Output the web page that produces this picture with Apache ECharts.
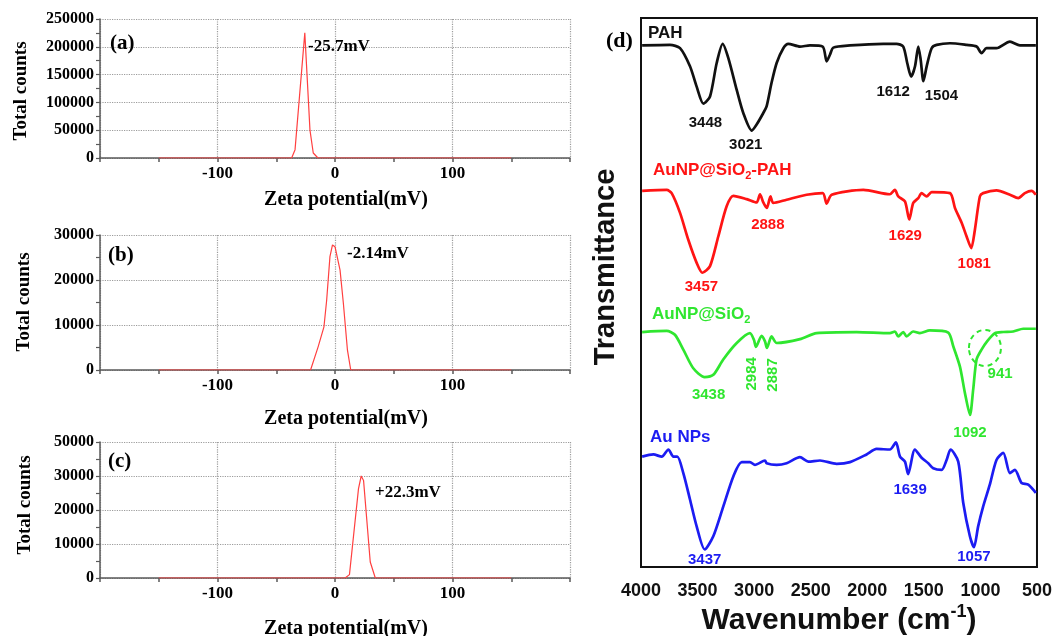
<!DOCTYPE html>
<html>
<head>
<meta charset="utf-8">
<script src="https://cdn.jsdelivr.net/npm/echarts@6/dist/echarts.min.js"></script>
<style>
html, body { margin: 0; padding: 0; background: #fff; }
#chart { width: 1055px; height: 636px; }
</style>
</head>
<body>
<div id="chart"></div>
<script>
// ---- Zeta potential distributions: [zeta potential (mV), total counts] ----
const zetaA = [[-150, 0], [-36.9, 0], [-34, 15000], [-25.7, 225000], [-21.3, 50000], [-18.5, 9000], [-14.5, 0], [150, 0]];
const zetaB = [[-150, 0], [-20.8, 0], [-14.3, 5200], [-9.4, 9600], [-7.1, 15500], [-4.3, 25200], [-2.14, 27800], [0, 27400], [4.3, 22200], [7.1, 14900], [10.6, 4400], [13.4, 0], [150, 0]];
const zetaC = [[-150, 0], [8.6, 0], [12.3, 1000], [20, 26300], [22.3, 30000], [24.3, 28700], [30, 4700], [34.3, 0], [150, 0]];
const zetaPeakLabels = ['-25.7mV', '-2.14mV', '+22.3mV'];
const zetaXTicks = [-100, 0, 100];
const countTicksA = ['0', '50000', '100000', '150000', '200000', '250000'];
const countTicksB = ['0', '10000', '20000', '30000'];
const countTicksC = ['0', '10000', '20000', '30000', '50000'];
const panelLetters = ['(a)', '(b)', '(c)', '(d)'];

// ---- FTIR spectra: [wavenumber (cm-1), transmittance (a.u., stacked)] ----
const pahSpec = [[3990, 95.0], [3744, 95.1], [3655, 94.5], [3567, 91.2], [3508, 87.5], [3448, 84.4], [3390, 85.7], [3331, 91.8], [3278, 95.3], [3228, 92.7], [3154, 86.9], [3096, 82.7], [3021, 79.5], [2978, 80.6], [2919, 82.7], [2890, 83.9], [2846, 88.2], [2801, 91.8], [2742, 94.5], [2698, 95.3], [2595, 94.8], [2507, 95.0], [2394, 94.8], [2359, 92.1], [2330, 93.3], [2300, 94.6], [2153, 95.0], [1859, 95.3], [1741, 95.3], [1682, 94.8], [1647, 91.8], [1612, 89.3], [1578, 91.2], [1549, 94.8], [1528, 92.4], [1504, 88.5], [1475, 91.2], [1431, 94.5], [1387, 95.1], [1269, 95.4], [1122, 95.1], [1034, 94.8], [990, 93.6], [946, 94.5], [858, 94.5], [739, 95.7], [651, 95.0], [510, 95.0]];
const silicaPahSpec = [[3990, 68.5], [3773, 68.7], [3729, 68.1], [3655, 64.5], [3582, 59.6], [3508, 55.4], [3457, 53.6], [3390, 54.8], [3317, 60.2], [3243, 65.7], [3184, 67.6], [3066, 67.0], [2978, 66.4], [2948, 67.9], [2919, 66.4], [2888, 65.4], [2855, 67.5], [2831, 66.3], [2713, 66.9], [2536, 67.8], [2394, 68.1], [2359, 66.2], [2315, 67.8], [2035, 68.7], [1800, 67.9], [1756, 68.7], [1726, 67.5], [1667, 66.6], [1629, 63.3], [1594, 66.3], [1549, 67.2], [1520, 68.1], [1475, 67.5], [1431, 68.3], [1269, 68.1], [1225, 65.4], [1166, 62.7], [1122, 60.2], [1081, 58.1], [1049, 61.4], [1005, 67.5], [976, 68.1], [858, 68.6], [739, 67.8], [666, 67.2], [607, 68.1], [548, 68.5], [510, 67.8]];
const silicaSpec = [[3990, 42.8], [3773, 43.0], [3700, 42.3], [3626, 39.6], [3538, 36.2], [3438, 34.6], [3361, 35.0], [3273, 37.8], [3154, 40.8], [3037, 42.6], [3002, 41.4], [2984, 40.1], [2934, 42.1], [2904, 41.1], [2887, 39.9], [2846, 42.0], [2801, 40.8], [2595, 41.5], [2448, 42.6], [2094, 42.8], [1800, 42.6], [1756, 42.9], [1726, 42.0], [1682, 42.8], [1653, 42.0], [1594, 42.9], [1535, 42.6], [1447, 43.1], [1284, 42.7], [1240, 40.2], [1181, 36.5], [1137, 31.7], [1092, 27.7], [1064, 32.3], [1034, 37.8], [990, 39.6], [941, 41.1], [872, 42.6], [798, 42.8], [710, 42.9], [622, 43.4], [510, 43.4]];
const goldSpec = [[3990, 20.1], [3891, 20.5], [3817, 20.1], [3758, 21.4], [3714, 20.1], [3679, 20.1], [3626, 17.1], [3567, 12.3], [3508, 7.4], [3437, 3.2], [3361, 5.6], [3273, 11.0], [3184, 16.5], [3110, 19.1], [3037, 19.1], [2993, 18.6], [2904, 19.4], [2890, 18.9], [2801, 18.6], [2713, 18.9], [2595, 20.0], [2521, 19.2], [2418, 19.4], [2271, 18.8], [2153, 19.1], [2006, 20.5], [1918, 21.5], [1800, 21.4], [1747, 22.7], [1711, 20.1], [1667, 19.2], [1639, 16.9], [1579, 21.4], [1520, 19.9], [1461, 18.9], [1417, 18.0], [1343, 17.7], [1299, 19.5], [1264, 21.4], [1196, 19.2], [1152, 11.7], [1093, 5.6], [1057, 3.6], [1020, 7.4], [976, 11.0], [917, 15.0], [858, 19.5], [798, 20.8], [739, 17.1], [695, 17.7], [636, 15.3], [577, 15.0], [510, 13.5]];
const pahPeaks = [3448, 3021, 1612, 1504];
const silicaPahPeaks = [1081, 1629, 2888, 3457];
const silicaPeaks = [3438, 2984, 2887, 1092, 941];
const goldPeaks = [3437, 1639, 1057];
const wnTicks = [4000, 3500, 3000, 2500, 2000, 1500, 1000, 500];

// ---- styling ----
const SERIF = '"Liberation Serif", "Times New Roman", serif';
const SANS = '"Liberation Sans", Arial, sans-serif';
const AXIS_GRAY = '#5a5a5a';
const DOT_GRAY = '#9c9c9c';
const ZETA_RED = '#ff4040';
const C_BLACK = '#111111', C_RED = '#ff1414', C_GREEN = '#2fe62f', C_BLUE = '#1c1cf2';

const chart = echarts.init(document.getElementById('chart'));

const zetaGrids = [
  { left: 100, top: 19, width: 470, height: 139 },
  { left: 100, top: 235, width: 470, height: 135 },
  { left: 100, top: 442, width: 470, height: 136 }
];
const zetaY = [
  { max: 250000, interval: 50000, labels: countTicksA },
  { max: 30000, interval: 10000, labels: countTicksB },
  { max: 40000, interval: 10000, labels: countTicksC }
];
const zetaData = [zetaA, zetaB, zetaC];

const grids = zetaGrids.concat([{ left: 641, top: 18, width: 396, height: 549, show: true, borderColor: '#111', borderWidth: 2, backgroundColor: 'transparent' }]);

const xAxes = zetaGrids.map((g, i) => ({
  gridIndex: i, type: 'value', min: -200, max: 200, interval: 100,
  axisLine: { show: true, onZero: false, lineStyle: { color: AXIS_GRAY, width: 1.5 } },
  axisTick: { show: true, length: 4, lineStyle: { color: AXIS_GRAY, width: 1.5 } },
  minorTick: { show: true, splitNumber: 2, length: 4, lineStyle: { color: AXIS_GRAY, width: 1.5 } },
  splitLine: { show: true, lineStyle: { color: DOT_GRAY, type: 'dotted', width: 1.2 } },
  axisLabel: {
    margin: 7, fontFamily: SERIF, fontWeight: 'bold', fontSize: 17, color: '#000',
    formatter: v => zetaXTicks.includes(v) ? String(v) : ''
  }
}));
xAxes.push({
  gridIndex: 3, type: 'value', min: 500, max: 4000, interval: 500, inverse: true,
  axisLine: { show: false }, axisTick: { show: false }, splitLine: { show: false },
  axisLabel: {
    margin: 15, fontFamily: SANS, fontWeight: 'bold', fontSize: 18, color: '#111',
    showMinLabel: true, showMaxLabel: true,
    formatter: v => wnTicks.includes(v) ? String(v) : ''
  }
});

const yAxes = zetaY.map((zy, i) => ({
  gridIndex: i, type: 'value', min: 0, max: zy.max, interval: zy.interval,
  axisLine: { show: true, onZero: false, lineStyle: { color: AXIS_GRAY, width: 1.5 } },
  axisTick: { show: true, length: 4, lineStyle: { color: AXIS_GRAY, width: 1.2 } },
  minorTick: { show: true, splitNumber: 2, length: 4, lineStyle: { color: AXIS_GRAY, width: 1.2 } },
  splitLine: { show: true, lineStyle: { color: DOT_GRAY, type: 'dotted', width: 1.2 } },
  axisLabel: {
    margin: 6, fontFamily: SERIF, fontWeight: 'bold', fontSize: 16, color: '#000',
    formatter: v => zy.labels[Math.round(v / zy.interval)]
  }
}));
yAxes.push({ gridIndex: 3, type: 'value', min: 0, max: 100, show: false });

// label placement (pixel offsets from each absorption minimum)
function peakMarks(spec, peaks, offsets, color, rotations) {
  return {
    symbol: 'circle', symbolSize: 1,
    itemStyle: { color: 'rgba(0,0,0,0)' },
    label: {
      show: true, position: 'inside', color: color,
      fontFamily: SANS, fontWeight: 'bold', fontSize: 15,
      formatter: p => p.value
    },
    data: peaks.map((wn, i) => ({
      coord: spec.find(p => p[0] === wn),
      value: String(wn),
      label: { offset: offsets[i], rotate: rotations ? rotations[i] : 0 }
    }))
  };
}

const series = zetaData.map((d, i) => ({
  type: 'line', xAxisIndex: i, yAxisIndex: i, data: d,
  symbol: 'none', lineStyle: { color: ZETA_RED, width: 1.2 }, z: 3
}));

function spectrum(name, data, color, marks) {
  return {
    name: name, type: 'line', xAxisIndex: 3, yAxisIndex: 3, data: data,
    symbol: 'none', smooth: 0.25,
    lineStyle: { color: color, width: 2.7 },
    markPoint: marks, z: 3
  };
}
series.push(spectrum('PAH', pahSpec, C_BLACK, peakMarks(pahSpec, pahPeaks, [[2, 19], [-6, 14], [-18, 15], [18, 15]], C_BLACK)));
series.push(spectrum('AuNP@SiO2-PAH', silicaPahSpec, C_RED, peakMarks(silicaPahSpec, silicaPahPeaks, [[3, 16], [-4, 16], [1, 17], [-1, 14]], C_RED)));
// the two C-H stretch labels are turned upright; their offsets are given in the rotated frame
series.push(spectrum('AuNP@SiO2', silicaSpec, C_GREEN, peakMarks(silicaSpec, silicaPeaks, [[4, 18], [-27, -4], [-27, 6], [0, 18], [13, 32]], C_GREEN, [0, 90, 90, 0, 0])));
series.push(spectrum('Au NPs', goldSpec, C_BLUE, peakMarks(goldSpec, goldPeaks, [[0, 10], [2, 16], [0, 10]], C_BLUE)));

// ---- text annotations ----
function txt(id, x, y, text, font, size, color, extra) {
  return Object.assign({
    type: 'text', id: id, x: x, y: y, z: 10,
    style: Object.assign({
      text: text, fill: color || '#000', fontFamily: font, fontWeight: 'bold', fontSize: size,
      align: 'left', verticalAlign: 'middle'
    }, (extra && extra.style) || {})
  }, extra && extra.el ? extra.el : {});
}
const vert = { el: { rotation: Math.PI / 2 }, style: { align: 'center' } };
const centered = { style: { align: 'center' } };
const subRich = (color, size) => ({
  m: { fill: color, fontFamily: SANS, fontWeight: 'bold', fontSize: size },
  s: { fill: color, fontFamily: SANS, fontWeight: 'bold', fontSize: Math.round(size * 0.62), padding: [12, 0, 0, 0] }
});

const graphics = [
  txt('la', 110, 44, panelLetters[0], SERIF, 21),
  txt('lb', 108, 256, panelLetters[1], SERIF, 21),
  txt('lc', 108, 462, panelLetters[2], SERIF, 21),
  txt('ld', 606, 41, panelLetters[3], SERIF, 22),
  txt('pa', 308, 47, zetaPeakLabels[0], SERIF, 17),
  txt('pb', 347, 254, zetaPeakLabels[1], SERIF, 17),
  txt('pc', 375, 493, zetaPeakLabels[2], SERIF, 17),
  txt('ya', 21, 91, 'Total counts', SERIF, 19, '#000', vert),
  txt('yb', 24, 302, 'Total counts', SERIF, 19, '#000', vert),
  txt('yc', 25, 505, 'Total counts', SERIF, 19, '#000', vert),
  txt('xa', 346, 200, 'Zeta potential(mV)', SERIF, 20, '#000', centered),
  txt('xb', 346, 419, 'Zeta potential(mV)', SERIF, 20, '#000', centered),
  txt('xc', 346, 629, 'Zeta potential(mV)', SERIF, 20, '#000', centered),
  txt('ty', 606, 267, 'Transmittance', SANS, 29, '#111', vert),
  {
    type: 'text', id: 'tx', x: 839, y: 621, z: 10,
    style: {
      text: '{m|Wavenumber (cm}{u|-1}{m|)}', align: 'center', verticalAlign: 'middle',
      rich: {
        m: { fill: '#111', fontFamily: SANS, fontWeight: 'bold', fontSize: 30 },
        u: { fill: '#111', fontFamily: SANS, fontWeight: 'bold', fontSize: 18, padding: [0, 0, 17, 0] }
      }
    }
  },
  txt('n1', 648, 33, 'PAH', SANS, 17, C_BLACK),
  {
    type: 'text', id: 'n2', x: 653, y: 170, z: 10,
    style: { text: '{m|AuNP@SiO}{s|2}{m|-PAH}', align: 'left', verticalAlign: 'middle', rich: subRich(C_RED, 17) }
  },
  {
    type: 'text', id: 'n3', x: 652, y: 314, z: 10,
    style: { text: '{m|AuNP@SiO}{s|2}', align: 'left', verticalAlign: 'middle', rich: subRich(C_GREEN, 17) }
  },
  txt('n4', 650, 437, 'Au NPs', SANS, 17, C_BLUE)
];

chart.setOption({
  animation: false,
  backgroundColor: '#ffffff',
  grid: grids,
  xAxis: xAxes,
  yAxis: yAxes,
  series: series,
  graphic: graphics
});

// dashed ring marking the 941 cm-1 shoulder, placed through the spectrum's own scales
const ringCenter = chart.convertToPixel({ gridIndex: 3 }, [960, 39.9]);
chart.setOption({
  graphic: [{
    type: 'ellipse', id: 'ring', z: 9,
    shape: { cx: ringCenter[0], cy: ringCenter[1], rx: 16, ry: 18 },
    style: { fill: 'none', stroke: C_GREEN, lineWidth: 2, lineDash: [5, 4] }
  }]
});
</script>
</body>
</html>
